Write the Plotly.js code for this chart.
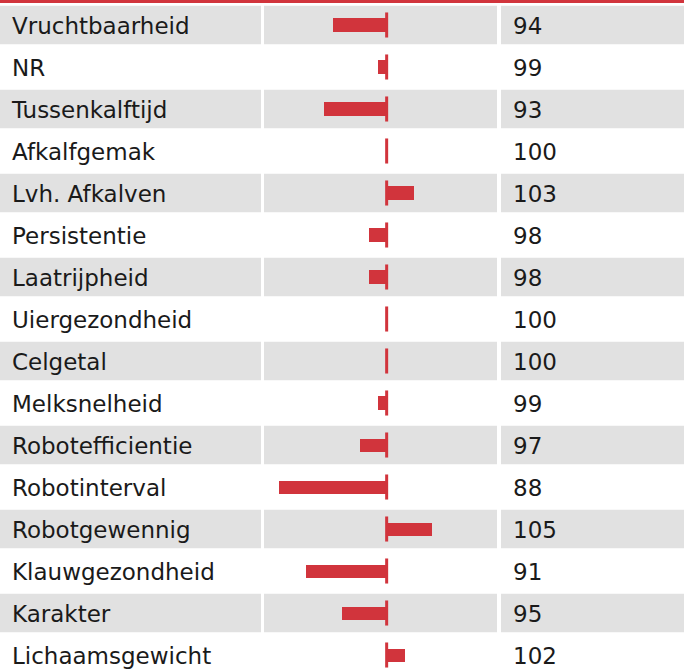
<!DOCTYPE html>
<html>
<head>
<meta charset="utf-8">
<script src="https://cdn.plot.ly/plotly-3.0.1.min.js"></script>
<style>
html,body{margin:0;padding:0;background:#fff;}
#chart{width:684px;height:669px;}
</style>
</head>
<body>
<div id="chart"></div>
<script>
var categories = ["Vruchtbaarheid","NR","Tussenkalftijd","Afkalfgemak","Lvh. Afkalven","Persistentie","Laatrijpheid","Uiergezondheid","Celgetal","Melksnelheid","Robotefficientie","Robotinterval","Robotgewennig","Klauwgezondheid","Karakter","Lichaamsgewicht"];
var values = [94,99,93,100,103,98,98,100,100,99,97,88,105,91,95,102];
var baseline = 100;

var RED = '#d1343c';
var GRAY = '#e1e1e1';
var W = 684, H = 669;
var FONT = '"DejaVu Sans", sans-serif';
var FS = 23;
var TEXT_SHIFT = 3; // px downward

var idx = categories.map(function(_, i){ return i; });

var shapes = [];
shapes.push({type:'rect', xref:'paper', yref:'paper', x0:0, x1:1, y0:1-3/H, y1:1, fillcolor:RED, line:{width:0}, layer:'below'});
var cols = [[0,261],[264,497],[501,684]];
idx.forEach(function(i){
  if (i % 2 === 0) {
    cols.forEach(function(c){
      shapes.push({type:'rect', xref:'paper', yref:'y', x0:c[0]/W, x1:c[1]/W, y0:i-0.46, y1:i+0.46, fillcolor:GRAY, line:{width:0}, layer:'below'});
    });
  }
});

var traces = [
  {
    type:'bar', orientation:'h', y:idx, x:values.map(function(v){return v-baseline;}), base:baseline,
    marker:{color:RED}, width:0.31, xaxis:'x', yaxis:'y', hoverinfo:'skip'
  },
  {
    type:'scatter', mode:'markers', y:idx, x:idx.map(function(){return baseline;}),
    marker:{symbol:'line-ns-open', size:17.9, line:{width:3, color:RED}, color:RED},
    xaxis:'x', yaxis:'y', hoverinfo:'skip'
  },
  {
    type:'scatter', mode:'text', y:idx, x:idx.map(function(){return 12;}), text:categories,
    textposition:'middle right', textfont:{family:FONT, size:FS, color:'#1a1a1a'},
    xaxis:'x2', yaxis:'y2', hoverinfo:'skip'
  },
  {
    type:'scatter', mode:'text', y:idx, x:idx.map(function(){return 12;}), text:values.map(String),
    textposition:'middle right', textfont:{family:FONT, size:FS, color:'#1a1a1a'},
    xaxis:'x3', yaxis:'y2', hoverinfo:'skip'
  }
];

var top0 = -0.595, bot0 = 15.333, sh = TEXT_SHIFT/42;
var layout = {
  width:W, height:H,
  margin:{l:0,r:0,t:0,b:0,pad:0},
  paper_bgcolor:'#fff', plot_bgcolor:'rgba(0,0,0,0)',
  showlegend:false,
  bargap:0,
  shapes:shapes,
  yaxis:{range:[bot0, top0], visible:false, showgrid:false, zeroline:false, fixedrange:true},
  yaxis2:{range:[bot0 - sh, top0 - sh], visible:false, showgrid:false, zeroline:false, overlaying:'y'},
  xaxis:{domain:[264/W,497/W], range:[86.37,112.26], visible:false, showgrid:false, zeroline:false},
  xaxis2:{domain:[0,261/W], range:[0,261], visible:false, showgrid:false, zeroline:false, anchor:'y2'},
  xaxis3:{domain:[501/W,1], range:[0,183], visible:false, showgrid:false, zeroline:false, anchor:'y2'}
};

Plotly.newPlot('chart', traces, layout, {staticPlot:true, displayModeBar:false});
</script>
</body>
</html>
